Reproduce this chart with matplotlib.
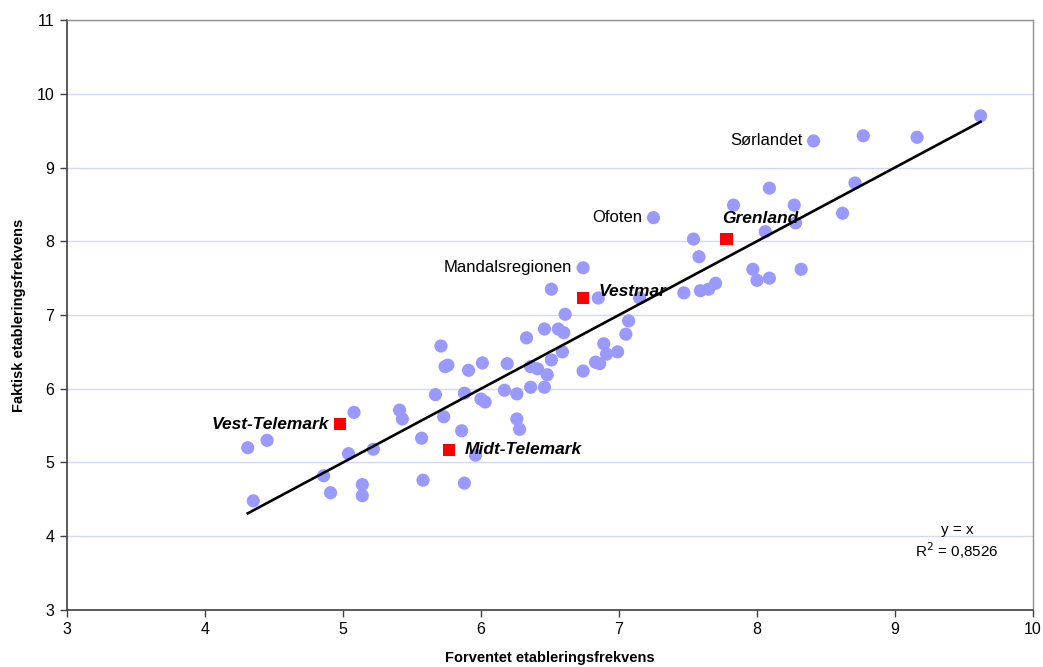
import numpy as np
import matplotlib.pyplot as plt

plt.rcParams['font.family'] = ['Liberation Sans', 'DejaVu Sans']

# regions (blue points): expected vs actual establishment frequency
forventet = np.array([
    4.31, 4.35, 4.45, 4.86, 4.91, 5.04, 5.08, 5.14, 5.14, 5.22,
    5.41, 5.43, 5.57, 5.58, 5.67, 5.71, 5.73, 5.74, 5.76, 5.86,
    5.88, 5.88, 5.91, 5.96, 6.00, 6.01, 6.03, 6.17, 6.19, 6.26,
    6.26, 6.28, 6.33, 6.36, 6.36, 6.41, 6.46, 6.46, 6.48, 6.51,
    6.51, 6.56, 6.59, 6.60, 6.61, 6.74, 6.74, 6.83, 6.85, 6.86,
    6.89, 6.91, 6.99, 7.05, 7.07, 7.15, 7.25, 7.47, 7.54, 7.58,
    7.59, 7.65, 7.70, 7.83, 7.97, 8.00, 8.06, 8.09, 8.09, 8.27,
    8.28, 8.32, 8.41, 8.62, 8.71, 8.77, 9.16, 9.62])
faktisk = np.array([
    5.20, 4.48, 5.30, 4.82, 4.59, 5.12, 5.68, 4.70, 4.55, 5.18,
    5.71, 5.59, 5.33, 4.76, 5.92, 6.58, 5.62, 6.30, 6.32, 5.43,
    4.72, 5.94, 6.25, 5.10, 5.86, 6.35, 5.82, 5.98, 6.34, 5.93,
    5.59, 5.45, 6.69, 6.30, 6.02, 6.27, 6.81, 6.02, 6.19, 6.39,
    7.35, 6.81, 6.50, 6.76, 7.01, 7.64, 6.24, 6.36, 7.23, 6.34,
    6.61, 6.47, 6.50, 6.74, 6.92, 7.23, 8.32, 7.30, 8.03, 7.79,
    7.33, 7.35, 7.43, 8.49, 7.62, 7.47, 8.13, 8.72, 7.50, 8.49,
    8.25, 7.62, 9.36, 8.38, 8.79, 9.43, 9.41, 9.70])

# named regions among the blue points
navn_blaa = ["Sørlandet", "Ofoten", "Mandalsregionen"]
navn_blaa_x = [8.41, 7.25, 6.74]
navn_blaa_y = [9.36, 8.32, 7.64]

# highlighted regions (red squares)
navn_roed = ["Vest-Telemark", "Midt-Telemark", "Vestmar", "Grenland"]
roed_x = [4.98, 5.77, 6.74, 7.78]
roed_y = [5.52, 5.17, 7.23, 8.03]

r2 = 0.8526

fig = plt.figure(figsize=(10.43, 6.67), dpi=100)
ax = fig.add_axes([0.0642, 0.0855, 0.9262, 0.8845])

ax.scatter(forventet, faktisk, s=90, color='#9999FF', edgecolors='none', zorder=3)

# trend line y = x over the range of the data
all_x = np.concatenate([forventet, roed_x])
lx = np.array([all_x.min(), all_x.max()])
ax.plot(lx, lx, color='black', lw=1.9, zorder=4)

ax.scatter(roed_x, roed_y, s=80, marker='s', color='#FF0000', edgecolors='none', zorder=5)

# labels for named blue points (to the left of the point)
for n, x, y in zip(navn_blaa, navn_blaa_x, navn_blaa_y):
    ax.annotate(n, (x, y), xytext=(-8, 0), textcoords='offset points',
                ha='right', va='center', fontsize=12, zorder=6)

# labels for red squares
roed_offset = [(-8, 0, 'right'), (11, 0, 'left'), (11, 5, 'left'), (-3, 15, 'left')]
for n, x, y, (dx, dy, ha) in zip(navn_roed, roed_x, roed_y, roed_offset):
    ax.annotate(n, (x, y), xytext=(dx, dy), textcoords='offset points',
                ha=ha, va='center', fontsize=12.5, fontweight='bold',
                fontstyle='italic', zorder=6)

ax.text(9.45, 4.08, "y = x", ha='center', va='center', fontsize=11)
ax.text(9.45, 3.8, "R$^2$ = " + f"{r2:.4f}".replace('.', ','),
        ha='center', va='center', fontsize=11)

ax.set_xlim(3, 10)
ax.set_ylim(3, 11)
ax.set_xticks(range(3, 11))
ax.set_yticks(range(3, 12))
ax.grid(axis='y', color='#D6D6F5', lw=1)
ax.set_axisbelow(True)

for s in ['top', 'right']:
    ax.spines[s].set_color('#909090')
    ax.spines[s].set_linewidth(1)
for s in ['left', 'bottom']:
    ax.spines[s].set_color('#404040')
    ax.spines[s].set_linewidth(1.2)

ax.tick_params(direction='out', length=5, width=1, color='#404040',
               labelsize=11.5, pad=4)

ax.set_xlabel("Forventet etableringsfrekvens", fontsize=10.5, fontweight='bold', labelpad=10)
ax.set_ylabel("Faktisk etableringsfrekvens", fontsize=10.5, fontweight='bold', labelpad=8)

fig.savefig("out.png", dpi=100)
